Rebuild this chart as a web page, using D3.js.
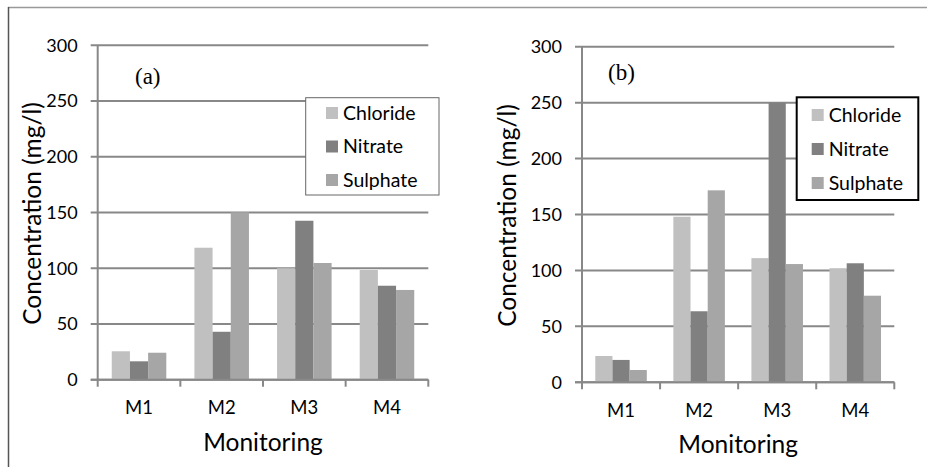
<!DOCTYPE html>
<html>
<head>
<meta charset="utf-8">
<script src="https://cdn.jsdelivr.net/npm/d3@7"></script>
<style>
  body { margin: 0; background: #fff; }
  svg text { font-family: Lato, "Open Sans", sans-serif; fill: #000; }
</style>
</head>
<body>
<div id="graph"></div>
<script>
// chart values
var categories = ["M1", "M2", "M3", "M4"]
var seriesNames = ["Chloride", "Nitrate", "Sulphate"]
var seriesColors = ["#c0c0c0", "#808080", "#a6a6a6"]
var yTicks = [0, 50, 100, 150, 200, 250, 300]

// panel (a)
var chlorideA = [25.5, 118.4, 100, 98.4]
var nitrateA = [16.5, 43, 142.6, 84.3]
var sulphateA = [24.2, 150.2, 104.7, 80.5]

// panel (b)
var chlorideB = [23.5, 148, 111, 102]
var nitrateB = [20, 63.5, 250, 106.4]
var sulphateB = [11, 171.6, 105.7, 77.4]

var svg = d3.select("#graph").append("svg")
            .attr("width", 927)
            .attr("height", 467)

// outer frame lines
svg.append("line").attr("x1", 8).attr("x2", 927).attr("y1", 7.5).attr("y2", 7.5)
   .attr("stroke", "#999").attr("stroke-width", 1.5)
svg.append("line").attr("x1", 8.5).attr("x2", 8.5).attr("y1", 7).attr("y2", 467)
   .attr("stroke", "#555").attr("stroke-width", 1.5)

function drawPanel(opts, values, label) {
    var x0 = d3.scaleBand()
               .domain(categories)
               .range([opts.left, opts.right])
               .paddingInner(0.34)
               .paddingOuter(0.17)
    var x1 = d3.scaleBand()
               .domain(seriesNames)
               .range([0, x0.bandwidth()])
    var y = d3.scaleLinear()
              .domain([0, 300])
              .range([opts.bottom, opts.top])

    var g = svg.append("g")

    // gridlines + left ticks
    g.selectAll(".grid").data(yTicks).enter().append("line")
     .attr("x1", opts.left - 7).attr("x2", opts.right)
     .attr("y1", function(d) { return y(d) }).attr("y2", function(d) { return y(d) })
     .attr("stroke", "#888").attr("stroke-width", 2)

    g.selectAll(".ylab").data(yTicks).enter().append("text")
     .attr("x", opts.left - 20)
     .attr("y", function(d) { return y(d) })
     .attr("dy", "0.35em")
     .attr("text-anchor", "end")
     .style("font-size", "18px")
     .text(function(d) { return d })

    // bars
    var rows = categories.map(function(c, i) {
        return seriesNames.map(function(s, j) { return {cat: c, s: s, v: values[j][i], c: seriesColors[j]} })
    })
    g.selectAll(".grp").data(rows).enter().append("g")
     .attr("transform", function(d) { return "translate(" + x0(d[0].cat) + ",0)" })
     .selectAll("rect").data(function(d) { return d }).enter().append("rect")
     .attr("x", function(d) { return x1(d.s) })
     .attr("width", x1.bandwidth())
     .attr("y", function(d) { return y(d.v) })
     .attr("height", function(d) { return y(0) - y(d.v) })
     .attr("fill", function(d) { return d.c })

    // axes lines
    g.append("line").attr("x1", opts.left).attr("x2", opts.left)
     .attr("y1", opts.top).attr("y2", opts.bottom + 7)
     .attr("stroke", "#888").attr("stroke-width", 2)
    g.append("line").attr("x1", opts.left - 7).attr("x2", opts.right)
     .attr("y1", opts.bottom).attr("y2", opts.bottom)
     .attr("stroke", "#888").attr("stroke-width", 2)
    var step = x0.step()
    g.selectAll(".xt").data(d3.range(1, categories.length + 1)).enter().append("line")
     .attr("x1", function(d) { return opts.left + d * step }).attr("x2", function(d) { return opts.left + d * step })
     .attr("y1", opts.bottom).attr("y2", opts.bottom + 7)
     .attr("stroke", "#888").attr("stroke-width", 2)

    g.selectAll(".xlab").data(categories).enter().append("text")
     .attr("x", function(d) { return x0(d) + x0.bandwidth() / 2 })
     .attr("y", opts.bottom + 28)
     .attr("dy", "0.35em")
     .attr("text-anchor", "middle")
     .style("font-size", "18.5px")
     .text(function(d) { return d })

    // axis titles
    g.append("text")
     .attr("transform", "translate(" + opts.titleX + "," + ((opts.top + opts.bottom) / 2 + 1) + ") rotate(-90)")
     .attr("text-anchor", "middle")
     .attr("dy", "0.35em")
     .style("font-size", "24.5px")
     .text("Concentration (mg/l)")
    g.append("text")
     .attr("x", (opts.left + opts.right) / 2)
     .attr("y", opts.bottom + 71)
     .attr("text-anchor", "middle")
     .style("font-size", "24.5px")
     .text("Monitoring")

    // panel tag
    g.append("text")
     .attr("x", opts.tagX).attr("y", opts.tagY)
     .attr("dy", "0.35em")
     .style("font-family", "'Liberation Serif', serif")
     .style("font-size", "23px")
     .text(label)

    // legend
    var lg = opts.legend
    g.append("rect")
     .attr("x", lg.x).attr("y", lg.y).attr("width", lg.w).attr("height", lg.h)
     .attr("fill", "#fff").attr("stroke", lg.stroke).attr("stroke-width", lg.sw)
    var items = g.selectAll(".leg").data(seriesNames).enter().append("g")
                 .attr("transform", function(d, i) { return "translate(" + lg.sx + "," + (lg.row0 + i * lg.rowStep) + ")" })
    items.append("rect")
         .attr("x", 0).attr("y", -6).attr("width", 12).attr("height", 12)
         .attr("fill", function(d, i) { return seriesColors[i] })
    items.append("text")
         .attr("x", lg.tx).attr("dy", "0.35em")
         .style("font-size", "19.5px")
         .text(function(d) { return d })
}

drawPanel({
    left: 97.7, right: 428.3, top: 45.3, bottom: 379.7, titleX: 32,
    tagX: 135, tagY: 76,
    legend: {x: 305.7, y: 97.7, w: 133.3, h: 97.3, stroke: "#666", sw: 1,
             sx: 326, tx: 17, row0: 113, rowStep: 33.5}
}, [chlorideA, nitrateA, sulphateA], "(a)")

drawPanel({
    left: 582, right: 894.3, top: 46.7, bottom: 382.3, titleX: 507,
    tagX: 608, tagY: 72,
    legend: {x: 796.7, y: 97.3, w: 121.6, h: 102.7, stroke: "#000", sw: 2,
             sx: 811.7, tx: 17, row0: 115, rowStep: 34}
}, [chlorideB, nitrateB, sulphateB], "(b)")
</script>
</body>
</html>
